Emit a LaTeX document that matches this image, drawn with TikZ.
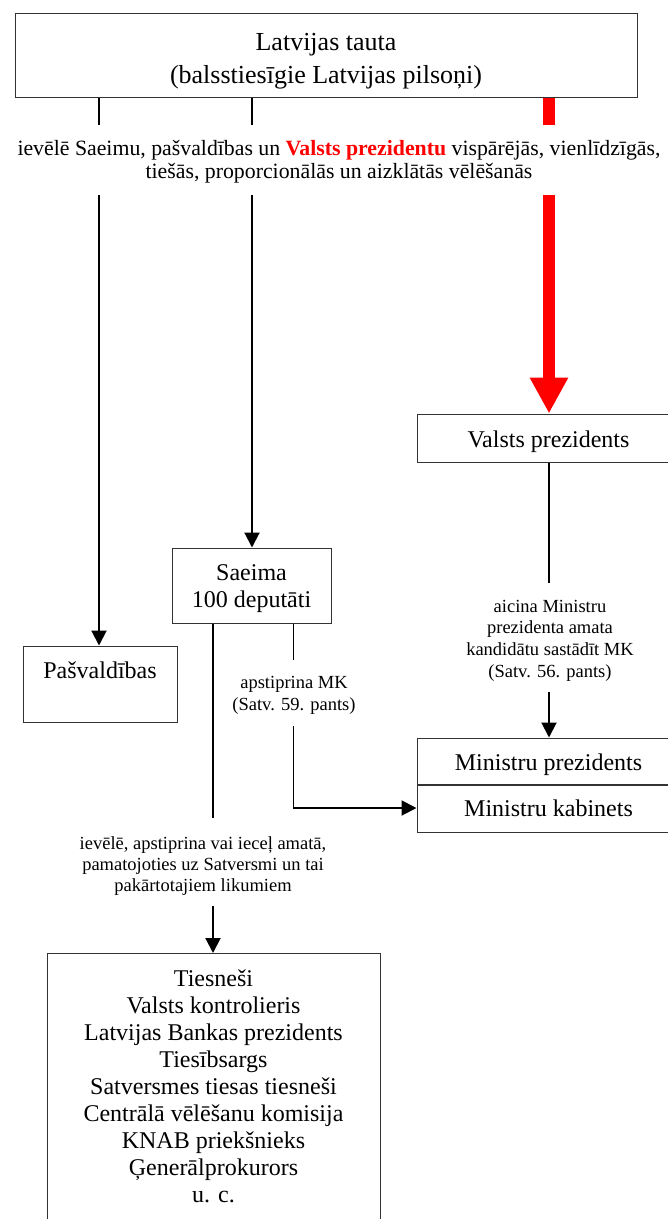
\documentclass[tikz,border=0pt]{standalone}
\usepackage{fontspec}
\setmainfont{Liberation Serif}
\usetikzlibrary{arrows.meta}
\definecolor{pred}{RGB}{255,0,0}
\begin{document}
\begin{tikzpicture}[x=1pt,y=-1pt,
 box/.style={draw=black!80, line width=1pt, inner sep=0pt, align=center, font=\fontsize{24}{27}\selectfont},
 lbl/.style={inner sep=0pt, align=center},
 conn/.style={line width=2pt, black},
 thinline/.style={line width=1pt, black},
 arr/.style={-{Triangle[width=15pt,length=15pt]}},
 redline/.style={line width=12pt, pred},
]
\useasboundingbox (0,0) rectangle (668,1219);

\node[box, minimum width=622pt, minimum height=84pt, font=\fontsize{26}{33}\selectfont] (tauta) at (326,55) {\rule{0pt}{29pt}Latvijas tauta\\(balsstiesīgie Latvijas pilsoņi)};

\node[lbl, font=\fontsize{21.8}{23}\selectfont] (elect) at (339,161.5) {ievēlē Saeimu, pašvaldības un \textcolor{pred}{\textbf{Valsts prezidentu}} vispārējās, vienlīdzīgās,\\tiešās, proporcionālās un aizklātās vēlēšanās};

\node[box, minimum width=154pt, minimum height=76pt] (pasv) at (100,684) {Pašvaldības\\\mbox{}};
\node[box, minimum width=159pt, minimum height=75pt] (saeima) at (251.5,585.5) {\rule{0pt}{23pt}Saeima\\100 deputāti};
\node[box, minimum width=263pt, minimum height=48pt] (vp) at (548.5,438) {\rule{0pt}{24.4pt}Valsts prezidents};
\node[box, minimum width=263pt, minimum height=46pt] (mp) at (548.5,761) {\rule{0pt}{24.4pt}Ministru prezidents};
\node[box, minimum width=263pt, minimum height=47pt, anchor=north] (mk) at (mp.south) {Ministru kabinets};
\node[box, minimum width=333pt, minimum height=272pt, anchor=north] (amati) at (213.5,953) {Tiesneši\\Valsts kontrolieris\\Latvijas Bankas prezidents\\Tiesībsargs\\Satversmes tiesas tiesneši\\Centrālā vēlēšanu komisija\\KNAB priekšnieks\\Ģenerālprokurors\\u. c.\rule[-6pt]{0pt}{0pt}};

\node[lbl, font=\fontsize{18.5}{21.7}\selectfont] (aicina) at (550,640.5) {aicina Ministru\\prezidenta amata\\kandidātu sastādīt MK\\(Satv. 56. pants)};
\node[lbl, font=\fontsize{18.5}{22}\selectfont] (apst) at (294,695.5) {apstiprina MK\\(Satv. 59. pants)};
\node[lbl, font=\fontsize{18.5}{21}\selectfont] (ievele) at (203,866) {ievēlē, apstiprina vai ieceļ amatā,\\pamatojoties uz Satversmi un tai\\pakārtotajiem likumiem};

\coordinate (l1a) at (99,125);
\coordinate (l1b) at (99,195);
\coordinate (l2a) at (252,125);
\coordinate (l2b) at (252,195);
\coordinate (r1a) at (549,125);
\coordinate (r1b) at (549,195);
\coordinate (v1) at (549,583);
\coordinate (v2) at (549,692);
\coordinate (s1) at (293,660);
\coordinate (s2) at (293,726);
\coordinate (s3) at (293,808);
\coordinate (s4) at (213,818);
\coordinate (s5) at (213,906);

\draw[conn] (tauta.south -| l1a) -- (l1a);
\draw[conn] (tauta.south -| l2a) -- (l2a);
\draw[conn,arr] (l1b) -- (pasv.north -| l1b);
\draw[conn,arr] (l2b) -- (saeima.north -| l2b);
\draw[redline] (tauta.south -| r1a) -- (r1a);
\draw[redline,-{Triangle[width=36pt,length=36pt]}] (r1b) -- (vp.north -| r1b);

\draw[conn] (vp.south -| v1) -- (v1);
\draw[conn,arr] (v2) -- (mp.north -| v2);
\draw[thinline] (saeima.south -| s1) -- (s1);
\draw[thinline] (s2) -- (s3);
\draw[conn,arr] (s3) -- (s3 -| mk.west);
\draw[conn] (saeima.south -| s4) -- (s4);
\draw[conn,arr] (s5) -- (amati.north -| s5);
\end{tikzpicture}
\end{document}
